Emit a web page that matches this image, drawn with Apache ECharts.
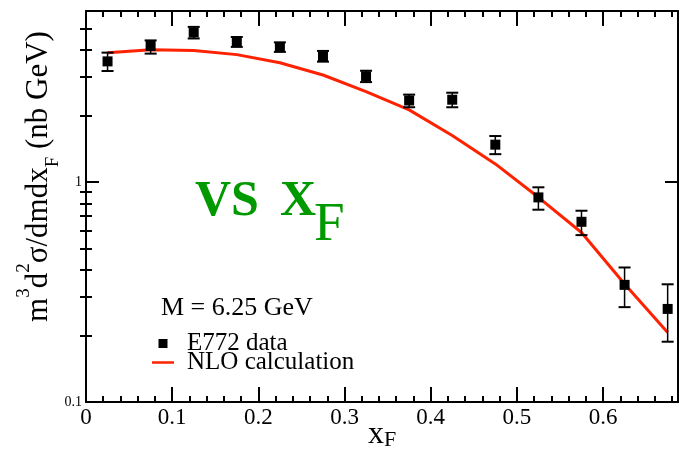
<!DOCTYPE html>
<html><head><meta charset="utf-8">
<script src="https://cdn.jsdelivr.net/npm/echarts@6/dist/echarts.min.js"></script>
<style>html,body{margin:0;padding:0;background:#fff}#c{width:679px;height:455px}</style>
</head><body><div id="c"></div>
<script>
// ---- data ----
const xF       = [0.025, 0.075, 0.125, 0.175, 0.225, 0.275, 0.325, 0.375, 0.425, 0.475, 0.525, 0.575, 0.625, 0.675];
const e772     = [3.54, 4.16, 4.79, 4.34, 4.12, 3.73, 3.03, 2.35, 2.37, 1.48, 0.852, 0.66, 0.341, 0.265];
const errLow   = [3.20, 3.84, 4.50, 4.12, 3.91, 3.53, 2.85, 2.19, 2.19, 1.34, 0.749, 0.574, 0.27, 0.188];
const errHigh  = [3.88, 4.41, 5.08, 4.57, 4.32, 3.95, 3.21, 2.50, 2.55, 1.62, 0.947, 0.741, 0.409, 0.343];
const nlo      = [3.88, 4.00, 3.97, 3.80, 3.49, 3.07, 2.58, 2.13, 1.63, 1.21, 0.853, 0.59, 0.344, 0.207];

const xMajor = [0, 0.1, 0.2, 0.3, 0.4, 0.5, 0.6];
const xMinor = [0.02,0.04,0.06,0.08,0.12,0.14,0.16,0.18,0.22,0.24,0.26,0.28,0.32,0.34,0.36,0.38,
                0.42,0.44,0.46,0.48,0.52,0.54,0.56,0.58,0.62,0.64,0.66,0.68];
const yMajor = [0.1, 1];
const yMinor = [0.2,0.3,0.4,0.5,0.6,0.7,0.8,0.9,2,3,4,5];

const FONT = 'Liberation Serif';
const X_MIN = 0, X_MAX = 0.687, Y_MIN = 0.1, Y_MAX = 6;

const chart = echarts.init(document.getElementById('c'), null, {renderer: 'canvas'});

const axLine = {show: true, onZero: false, lineStyle: {color: '#000', width: 2}};
const noLine = {show: false};
function tick(len, vals) {
  return {show: true, inside: true, length: len, customValues: vals, lineStyle: {color: '#000', width: 2}};
}
function xAx(pos, line, len, vals, extra) {
  return Object.assign({type: 'value', min: X_MIN, max: X_MAX, position: pos,
    axisLine: line ? axLine : noLine, axisTick: tick(len, vals),
    axisLabel: {show: false}, splitLine: {show: false}}, extra || {});
}
function yAx(pos, line, len, vals, extra) {
  return Object.assign({type: 'log', logBase: 10, min: Y_MIN, max: Y_MAX, position: pos,
    axisLine: line ? axLine : noLine, axisTick: tick(len, vals),
    axisLabel: {show: false}, splitLine: {show: false}}, extra || {});
}

const scatterData = xF.map((x, i) => [x, e772[i]]);
const errData = xF.map((x, i) => [x, errLow[i], errHigh[i]]);
const lineData = xF.map((x, i) => [x, nlo[i]]);

const option = {
  backgroundColor: '#fff',
  animation: false,
  grid: {left: 86, right: 1, top: 11, bottom: 53, containLabel: false, outerBoundsMode: 'none'},
  xAxis: [
    xAx('bottom', true, 15, xMajor, {
      axisLabel: {show: true, customValues: xMajor, color: '#000', fontFamily: FONT, fontSize: 23, margin: 4},
      name: '{n|x}{s|F}', nameLocation: 'middle', nameGap: 17, nameMoveOverlap: false,
      nameTextStyle: {rich: {
        n: {fontFamily: FONT, fontSize: 32, color: '#000', lineHeight: 32},
        s: {fontFamily: FONT, fontSize: 22, color: '#000', lineHeight: 22, verticalAlign: 'bottom', padding: [22, 0, 0, 0]}
      }}
    }),
    xAx('bottom', false, 6, xMinor),
    xAx('top', true, 15, xMajor),
    xAx('top', false, 6, xMinor)
  ],
  yAxis: [
    yAx('left', true, 13, yMajor, {
      axisLabel: {show: true, customValues: yMajor, color: '#000', fontFamily: FONT, fontSize: 14, margin: 4,
        formatter: v => (Math.abs(v - 0.1) < 1e-9 ? '0.1' : String(Math.round(v)))},
      name: '{n|m}{sup|3}{n|d}{sup|2}{n|σ/dmdx}{sub|F}{n| (nb GeV)}',
      nameLocation: 'middle', nameRotate: 90, nameGap: 23, nameMoveOverlap: false,
      nameTextStyle: {padding: [0, 0, 0, 60], rich: {
        n: {fontFamily: FONT, fontSize: 31, color: '#000', lineHeight: 48},
        sup: {fontFamily: FONT, fontSize: 19, color: '#000', lineHeight: 19, verticalAlign: 'top'},
        sub: {fontFamily: FONT, fontSize: 19, color: '#000', lineHeight: 19, verticalAlign: 'bottom'}
      }}
    }),
    yAx('left', false, 6, yMinor),
    yAx('right', true, 13, yMajor),
    yAx('right', false, 6, yMinor)
  ],
  legend: {
    orient: 'vertical', left: 147, top: 326, itemWidth: 22, itemHeight: 9, itemGap: -6,
    data: [
      {name: 'E772 data', icon: 'path://M0,0L10,0L10,10L0,10Z'},
      {name: 'NLO calculation', icon: 'path://M0,0L22,0L22,2.5L0,2.5Z'}
    ],
    textStyle: {fontFamily: FONT, fontSize: 25, color: '#000', lineHeight: 22, padding: [0, 0, 0, 8]}
  },
  graphic: [
    {type: 'text', left: 161, top: 295, z: 100,
      style: {text: 'M = 6.25 GeV', fontFamily: FONT, fontSize: 26, fill: '#000'}},
    {type: 'text', x: 195, y: 202, z: 100,
      style: {text: 'VS', fontFamily: FONT, fontSize: 50, fontWeight: 'bold', fill: '#009900', verticalAlign: 'middle', align: 'left'}},
    {type: 'text', x: 280, y: 202, z: 100,
      style: {text: 'X', fontFamily: FONT, fontSize: 50, fontWeight: 'bold', fill: '#009900', verticalAlign: 'middle', align: 'left'}},
    {type: 'text', x: 314, y: 226, z: 100,
      style: {text: 'F', fontFamily: FONT, fontSize: 55, fill: '#009900', verticalAlign: 'middle', align: 'left'}}
  ],
  series: [
    {
      name: 'NLO calculation', type: 'line', xAxisIndex: 0, yAxisIndex: 0,
      data: lineData, symbol: 'none', smooth: false,
      lineStyle: {color: '#ff2200', width: 3}, itemStyle: {color: '#ff2200'}, z: 2
    },
    {
      name: 'E772 errors', type: 'custom', xAxisIndex: 0, yAxisIndex: 0, z: 3,
      data: errData,
      renderItem: function (params, api) {
        const x = api.value(0);
        const lo = api.coord([x, api.value(1)]);
        const hi = api.coord([x, api.value(2)]);
        const hw = 6;
        const st = {stroke: '#000', lineWidth: 2};
        return {type: 'group', children: [
          {type: 'line', shape: {x1: lo[0], y1: lo[1], x2: hi[0], y2: hi[1]}, style: {stroke: '#000', lineWidth: 1.5}},
          {type: 'line', shape: {x1: lo[0] - hw, y1: lo[1], x2: lo[0] + hw, y2: lo[1]}, style: st},
          {type: 'line', shape: {x1: hi[0] - hw, y1: hi[1], x2: hi[0] + hw, y2: hi[1]}, style: st}
        ]};
      }
    },
    {
      name: 'E772 data', type: 'scatter', xAxisIndex: 0, yAxisIndex: 0, z: 4,
      data: scatterData, symbol: 'rect', symbolSize: 10, itemStyle: {color: '#000', opacity: 1}
    }
  ]
};
chart.setOption(option);
</script>
</body></html>
